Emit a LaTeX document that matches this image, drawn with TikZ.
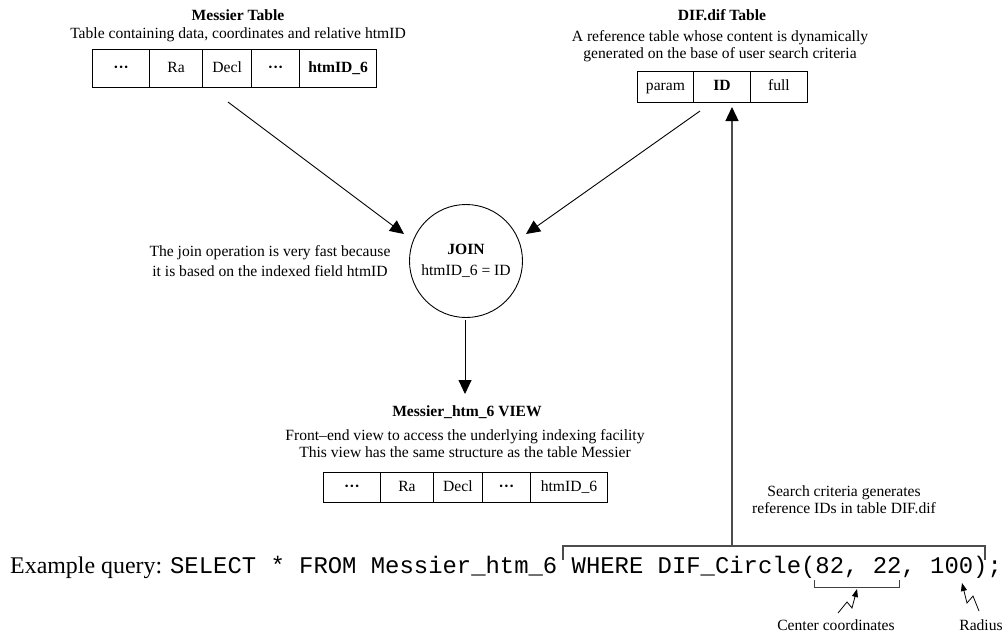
\documentclass[tikz,border=0pt]{standalone}
\usepackage{fontspec}
\setmainfont{Liberation Serif}
\setmonofont{Liberation Mono}
\usetikzlibrary{arrows.meta}
\begin{document}
\begin{tikzpicture}[x=1pt,y=-1pt,
  txt/.style={font=\fontsize{15.6}{17}\selectfont, inner sep=0pt, align=center},
  ttl/.style={font=\fontsize{15.6}{17}\selectfont\bfseries, inner sep=0pt, align=center},
  cell/.style={draw, line width=0.9pt, inner sep=0pt, anchor=north west,
               text height=10.5pt, text depth=3pt, font=\fontsize{15.6}{17}\selectfont},
  mcell/.style={cell, line width=1.3pt},
  arr/.style={-{Triangle[length=14pt,width=13pt]}, line width=0.9pt},
  garr/.style={-{Triangle[length=14pt,width=13pt,color=black]}, line width=1.4pt, draw=black!70},
  gline/.style={line width=1.3pt, draw=black!70},
  zig/.style={-{Triangle[length=8pt,width=6pt]}, line width=0.8pt},
  brk/.style={line width=1pt, draw=black!75},
]
\useasboundingbox (0,0) rectangle (1003,633);

% ---------- Messier table ----------
\node[ttl] (mtitle) at (238,15) {Messier Table};
\node[txt] (msub) at (238,35) {Table containing data, coordinates and relative htmID};
\node[mcell, minimum width=57pt, minimum height=38pt] (m1) at (92,49) {\textbf{···}};
\node[mcell, minimum width=53pt, minimum height=38pt] (m2) at (149,49) {Ra};
\node[mcell, minimum width=49pt, minimum height=38pt] (m3) at (202,49) {Decl};
\node[mcell, minimum width=48pt, minimum height=38pt] (m4) at (251,49) {\textbf{···}};
\node[mcell, minimum width=77pt, minimum height=38pt] (m5) at (299,49) {\textbf{htmID\_6}};

% ---------- DIF table ----------
\node[ttl] (dtitle) at (722,15) {DIF.dif Table};
\node[txt] (dsub) at (720,46) {A reference table whose content is dynamically\\generated on the base of user search criteria};
\node[cell, minimum width=56pt, minimum height=31pt] (d1) at (637,71) {param};
\node[cell, minimum width=57pt, minimum height=31pt] (d2) at (693,71) {\textbf{ID}};
\node[cell, minimum width=57pt, minimum height=31pt] (d3) at (750,71) {full};

% ---------- JOIN ----------
\node[circle, draw, line width=0.9pt, minimum size=113pt, inner sep=0pt, align=center,
      font=\fontsize{15.6}{17}\selectfont] (join) at (466,261)
      {\textbf{JOIN}\\[4pt]htmID\_6 = ID};
\node[txt, font=\fontsize{15.6}{20}\selectfont] (jnote) at (270,261)
      {The join operation is very fast because\\it is based on the indexed field htmID};

% ---------- VIEW ----------
\node[ttl] (vtitle) at (467,412) {Messier\_htm\_6 VIEW};
\node[txt] (vsub) at (465,443.5) {Front--end view to access the underlying indexing facility\\This view has the same structure as the table Messier};
\node[cell, minimum width=57pt, minimum height=30pt] (v1) at (323,472) {\textbf{···}};
\node[cell, minimum width=53pt, minimum height=30pt] (v2) at (380,472) {Ra};
\node[cell, minimum width=49pt, minimum height=30pt] (v3) at (433,472) {Decl};
\node[cell, minimum width=48pt, minimum height=30pt] (v4) at (482,472) {\textbf{···}};
\node[cell, minimum width=77pt, minimum height=30pt] (v5) at (530,472) {htmID\_6};

% ---------- search note ----------
\node[txt] (snote) at (844,499.5) {Search criteria generates\\reference IDs in table DIF.dif};

% ---------- query ----------
\node[inner sep=0pt, anchor=base west, font=\fontsize{23.9}{26}\selectfont] (query) at (10,573)
  {Example query: \texttt{SELECT * FROM Messier\_htm\_6 WHERE DIF\_Circle(82, 22, 100);}};
\node[txt] (clab) at (836,625) {Center coordinates};
\node[txt] (rlab) at (981,625) {Radius};

% ---------- connectors ----------
\coordinate (mA) at (228,102);
\coordinate (mB) at (404,234);
\coordinate (dA) at (700,111);
\coordinate (dB) at (526,234);
\coordinate (jA) at (465,320);
\coordinate (jB) at (465,394);
\draw[arr] (mA) -- (mB);
\draw[arr] (dA) -- (dB);
\draw[arr] (jA) -- (jB);

% bracket over WHERE ... and arrow to DIF table
\coordinate (bL) at (563,560);
\coordinate (bR) at (985,560);
\coordinate (bV) at (732,546);
\coordinate (bT) at (732,107);
\draw[gline] (bL) -- (563,546) -- (985,546) -- (bR);
\draw[garr] (bV) -- (bT);

% small bracket under 82, 22
\draw[brk] (814,580) -- (814,587) -- (899,587) -- (899,580);
\coordinate (cS) at (838,613);
\coordinate (cT) at (857,589);
\draw[zig] (cS) -- (847,602) -- (852,608) -- (cT);
\coordinate (rS) at (979,611);
\coordinate (rT) at (962,583);
\draw[zig] (rS) -- (973,596) -- (967,603) -- (rT);
\end{tikzpicture}
\end{document}
